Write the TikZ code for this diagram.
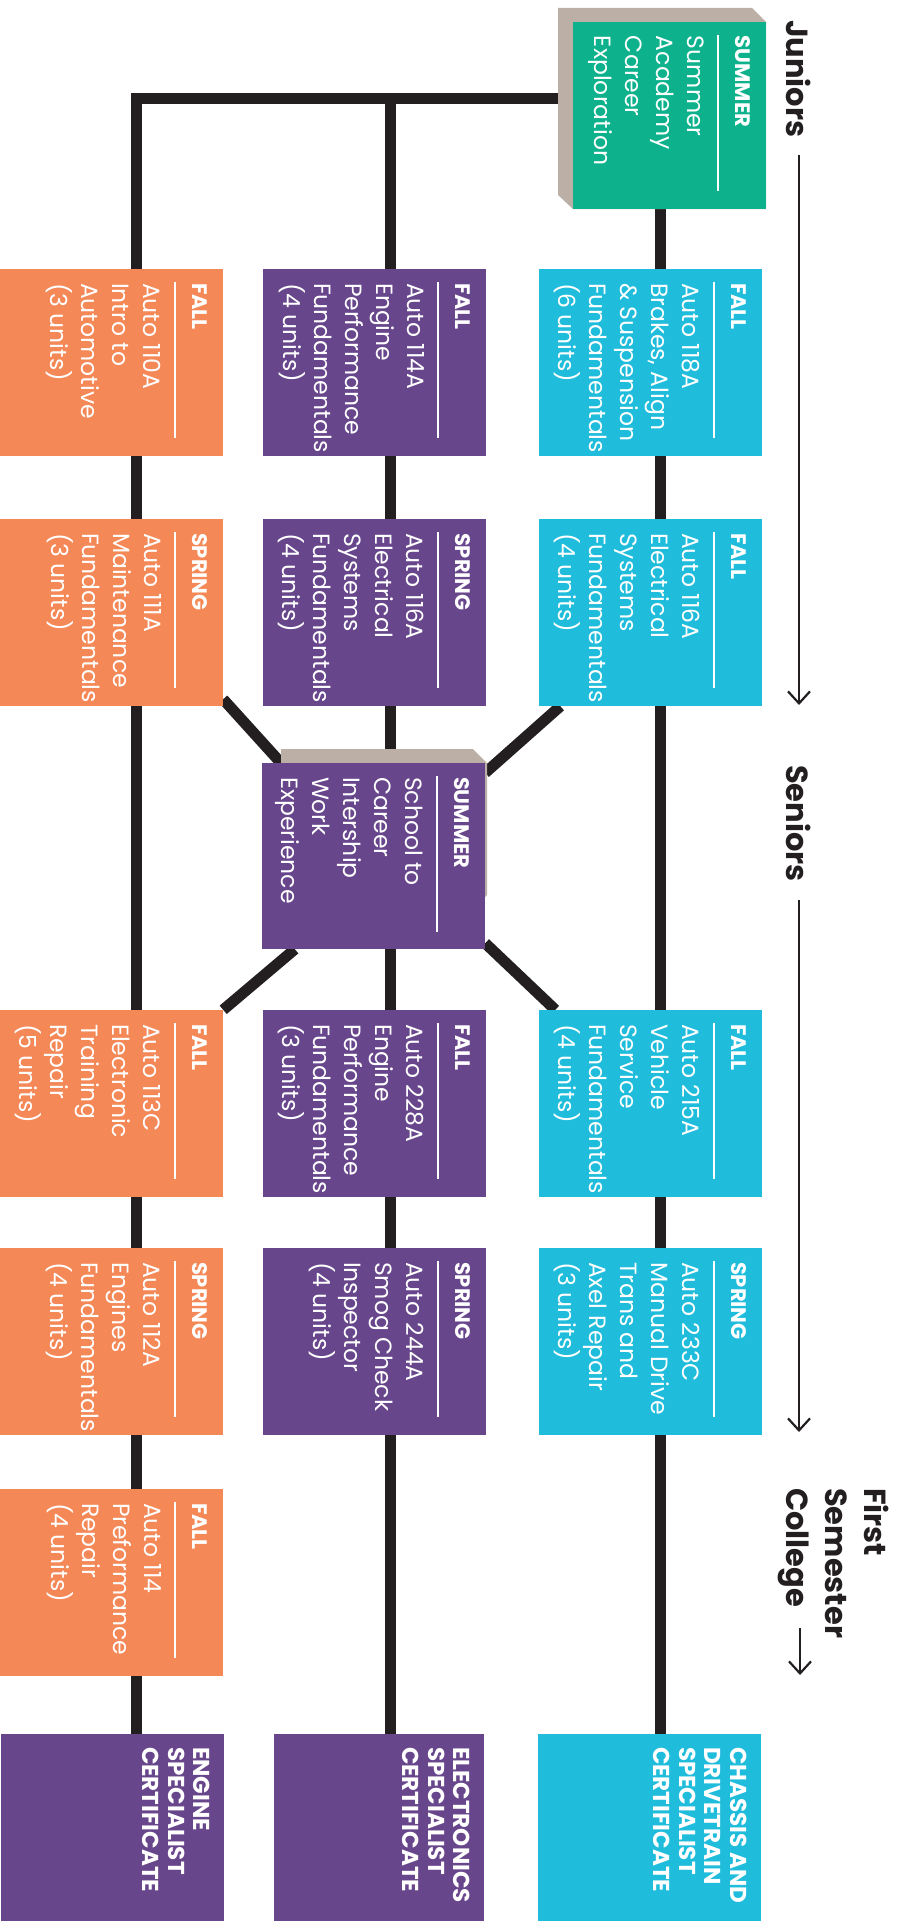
\documentclass[tikz,border=0pt]{standalone}
\usepackage{fontspec}
\setmainfont{Poppins}
\usepackage{tikz}
\usetikzlibrary{arrows.meta,backgrounds,positioning}

\definecolor{autoorange}{HTML}{F48857}
\definecolor{autopurple}{HTML}{68468C}
\definecolor{autocyan}{HTML}{1FBDDB}
\definecolor{autogreen}{HTML}{0DB28C}
\definecolor{autotan}{HTML}{BCB0A6}
\definecolor{autoink}{HTML}{231F20}

% one course box: name, centre, colour, season, text
\newcommand{\course}[5]{%
  \node[cbox,fill=#3] (#1) at (#2) {};
  \node[season] at ([xshift=-23,yshift=-14]#1.north east) {#4};
  \draw[srule] ([xshift=-48,yshift=-13]#1.north east) -- ++(0,156);
  \node[ctext] at ([xshift=-62,yshift=-14]#1.north east) {#5};
}
% one certificate box: name, centre, colour (and options), text
\newcommand{\cert}[4]{%
  \node[cbox,fill=#3] (#1) at (#2) {};
  \node[certtext] at ([xshift=-14,yshift=-13]#1.north east) {#4};
}

\begin{document}
\begin{tikzpicture}[x=1pt,y=-1pt]
\tikzstyle{cbox}=[rectangle,draw=none,inner sep=0,minimum width=223,minimum height=187]
\tikzstyle{season}=[rotate=-90,anchor=west,inner sep=0,text=white,font=\fontsize{21}{21}\bfseries]
\tikzstyle{srule}=[white,line width=2]
\tikzstyle{ctext}=[rotate=-90,anchor=north west,inner sep=0,align=left,text=white,font=\fontsize{23.5}{31}\selectfont]
\tikzstyle{certtext}=[rotate=-90,anchor=north west,inner sep=0,align=left,text=white,font=\fontsize{23}{25.5}\bfseries]
\tikzstyle{tlabel}=[rotate=-90,inner sep=0,align=left,text=autoink,font=\fontsize{30.5}{39}\bfseries]
\tikzstyle{conn}=[autoink,line width=11]
\tikzstyle{tarrow}=[autoink,line width=2.2,-{Straight Barb[length=12pt,width=22pt,line width=2.2pt]}]
\useasboundingbox (0,0) rectangle (903,1929);

% summer academy
\fill[autotan] (558,8) -- (752,8) -- (766,22) -- (766,209) -- (573,209) -- (558,195) -- cycle;
\course{sa}{669.5,115.5}{autogreen,minimum width=193}{SUMMER}{Summer\\Academy\\Career\\Exploration}

% juniors
\course{o1}{111.5,362.5}{autoorange}{FALL}{Auto 110A\\Intro to\\Automotive\\(3 units)}
\course{p1}{374.5,362.5}{autopurple}{FALL}{Auto 114A\\Engine\\Performance\\Fundamentals\\(4 units)}
\course{c1}{650,362.5}{autocyan}{FALL}{Auto 118A\\Brakes, Align\\\& Suspension\\Fundamentals\\(6 units)}
\course{o2}{111.5,612.5}{autoorange}{SPRING}{Auto 111A\\Maintenance\\Fundamentals\\(3 units)}
\course{p2}{374.5,612.5}{autopurple}{SPRING}{Auto 116A\\Electrical\\Systems\\Fundamentals\\(4 units)}
\course{c2}{650,612.5}{autocyan}{FALL}{Auto 116A\\Electrical\\Systems\\Fundamentals\\(4 units)}

% internship
\fill[autotan] (281,749) -- (473,749) -- (487,763) -- (487,895) -- (485,897) -- (281,800) -- cycle;
\course{si}{373.5,856}{autopurple,minimum height=186}{SUMMER}{School to\\Career\\Intership\\Work\\Experience}

% seniors
\course{o3}{111.5,1103.5}{autoorange}{FALL}{Auto 113C\\Electronic\\Training\\Repair\\(5 units)}
\course{p3}{374.5,1103.5}{autopurple}{FALL}{Auto 228A\\Engine\\Performance\\Fundamentals\\(3 units)}
\course{c3}{650,1103.5}{autocyan}{FALL}{Auto 215A\\Vehicle\\Service\\Fundamentals\\(4 units)}
\course{o4}{111.5,1341.5}{autoorange}{SPRING}{Auto 112A\\Engines\\Fundamentals\\(4 units)}
\course{p4}{374.5,1341.5}{autopurple}{SPRING}{Auto 244A\\Smog Check\\Inspector\\(4 units)}
\course{c4}{650,1341.5}{autocyan}{SPRING}{Auto 233C\\Manual Drive\\Trans and\\Axel Repair\\(3 units)}

% college
\course{o5}{111.5,1582.5}{autoorange}{FALL}{Auto 114\\Preformance\\Repair\\(4 units)}

% certificates
\cert{eng}{112.5,1827.5}{autopurple}{ENGINE\\SPECIALIST\\CERTIFICATE}
\cert{elec}{379,1827.5}{autopurple,minimum width=210}{ELECTRONICS\\SPECIALIST\\CERTIFICATE}
\cert{chas}{649,1827.5}{autocyan}{CHASSIS AND\\DRIVETRAIN\\SPECIALIST\\CERTIFICATE}

% time line
\node[tlabel,anchor=west] (jun) at (799,20) {Juniors};
\node[tlabel,anchor=west] (sen) at (799,765) {Seniors};
\node[tlabel,anchor=north west] (fsc) at (889,1488) {First\\Semester\\College};
\coordinate (junend) at (799,705);
\coordinate (senend) at (799,1432);
\coordinate (fscbeg) at (800,1628);
\coordinate (fscend) at (800,1675);
\draw[tarrow] ([yshift=-17]jun.east) -- (junend);
\draw[tarrow] ([yshift=-18]sen.east) -- (senend);
\draw[tarrow] (fscbeg) -- (fscend);

% paths
\begin{pgfonlayer}{background}
\coordinate (jo) at (136,99);
\coordinate (jp) at (390,99);
\coordinate (jc) at (660,209);
\draw[conn] (jo |- eng.north) -- (jo) -- (sa.west |- jo);
\draw[conn] (jp) -- (jp |- elec.north);
\draw[conn] (jc |- sa.south) -- (jc |- chas.north);
\draw[conn] ([yshift=7]o2.south east) -- ([xshift=19]si.north west);
\draw[conn] ([xshift=22]c2.south west) -- ([yshift=-10]si.north east);
\draw[conn] ([xshift=33]si.south west) -- (o3.north east);
\draw[conn] ([yshift=6]si.south east) -- ([xshift=17]c3.north west);
\end{pgfonlayer}
\end{tikzpicture}
\end{document}
